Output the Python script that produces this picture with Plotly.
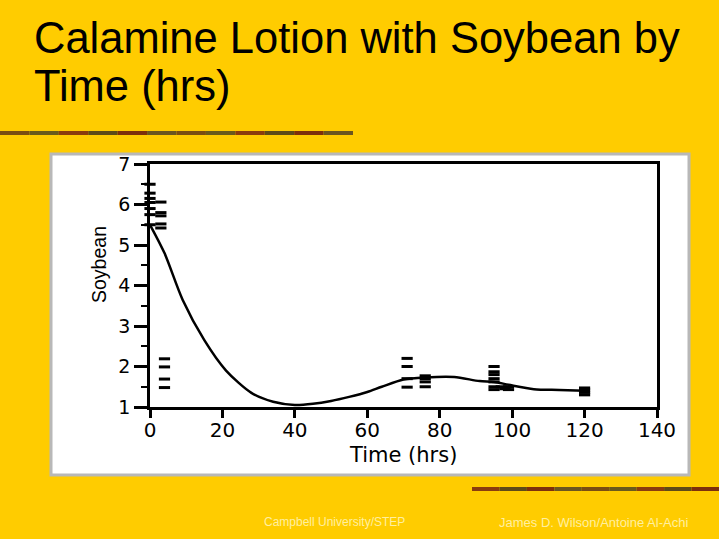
import plotly.graph_objects as go

# ---- data ----
pt_time = [0, 0, 0, 0, 0, 0, 0,
           3, 3, 3, 3, 3,
           4, 4, 4, 4,
           71, 71, 71, 71,
           76, 76, 76, 76,
           95, 95, 95, 95, 95, 95, 95,
           97, 98, 99, 99,
           120, 120, 120, 120]
pt_soy = [6.5, 6.28, 6.15, 6.05, 5.9, 5.75, 5.5,
          6.06, 5.8, 5.72, 5.52, 5.42,
          2.19, 1.99, 1.69, 1.48,
          2.2, 2.0, 1.7, 1.49,
          1.77, 1.7, 1.62, 1.5,
          2.0, 1.87, 1.8, 1.7, 1.62, 1.5, 1.43,
          1.5, 1.45, 1.5, 1.43,
          1.47, 1.42, 1.36, 1.3]

curve_time = [0, 4, 9, 15, 21, 28, 34, 40, 45, 50, 55, 60, 64, 70, 76, 84,
              91, 95, 99, 106, 113, 120]
curve_soy = [5.5, 4.8, 3.65, 2.65, 1.9, 1.35, 1.13, 1.05, 1.08, 1.15, 1.25,
             1.37, 1.5, 1.68, 1.73, 1.74, 1.64, 1.62, 1.55, 1.44, 1.42, 1.40]

x_ticks = [0, 20, 40, 60, 80, 100, 120, 140]
y_ticks = [1, 2, 3, 4, 5, 6, 7]

title_lines = ["Calamine Lotion with Soybean by", "Time (hrs)"]
x_title = "Time (hrs)"
y_title = "Soybean"
footer_left = "Campbell University/STEP"
footer_right = "James D. Wilson/Antoine Al-Achi"

# ---- layout geometry ----
W, H = 719, 539
L, R, T, B = 150, 657, 164, 407


def px(x):
    return (x - L) / (R - L)


def py(y):
    return (B - y) / (B - T)


fig = go.Figure()

fig.add_trace(go.Scatter(
    x=curve_time, y=curve_soy, mode="lines",
    line=dict(color="black", width=2.5, shape="spline", smoothing=0.8),
    hoverinfo="skip", showlegend=False, cliponaxis=False))

fig.add_trace(go.Scatter(
    x=pt_time, y=pt_soy, mode="markers",
    marker=dict(symbol="line-ew", size=8, color="black",
                line=dict(color="black", width=3)),
    showlegend=False, cliponaxis=False))

shapes = []
# white chart panel with grey border
shapes.append(dict(type="rect", xref="paper", yref="paper",
                   x0=px(51), x1=px(689), y0=py(475), y1=py(154),
                   fillcolor="white", line=dict(color="#b8b8b8", width=3),
                   layer="below"))
# decorative bars
bar_cols = ["#7a4d12", "#6a5a1c", "#8a3c0e", "#5e4a18", "#7d2f0c", "#6b5520"]
n = 12
for i in range(n):
    x0 = 0 + i * 353 / n
    shapes.append(dict(type="rect", xref="paper", yref="paper",
                       x0=px(x0), x1=px(x0 + 353 / n), y0=py(135), y1=py(131),
                       fillcolor=bar_cols[i % len(bar_cols)], line=dict(width=0),
                       layer="below"))
n2 = 9
for i in range(n2):
    x0 = 472 + i * 247 / n2
    shapes.append(dict(type="rect", xref="paper", yref="paper",
                       x0=px(x0), x1=px(x0 + 247 / n2), y0=py(491), y1=py(487),
                       fillcolor=bar_cols[(i + 2) % len(bar_cols)], line=dict(width=0),
                       layer="below"))

annotations = [
    dict(text=title_lines[0], x=px(32), y=py(38), xref="paper", yref="paper",
         xanchor="left", yanchor="middle", showarrow=False,
         font=dict(family="Liberation Sans, Arial", size=43.5, color="black")),
    dict(text=title_lines[1], x=px(32), y=py(86), xref="paper", yref="paper",
         xanchor="left", yanchor="middle", showarrow=False,
         font=dict(family="Liberation Sans, Arial", size=43.5, color="black")),
    dict(text=x_title, x=px(403), y=py(455), xref="paper", yref="paper",
         xanchor="center", yanchor="middle", showarrow=False,
         font=dict(family="DejaVu Sans", size=21, color="black")),
    dict(text=y_title, x=px(99), y=py(265), xref="paper", yref="paper",
         xanchor="center", yanchor="middle", showarrow=False, textangle=-90,
         font=dict(family="Liberation Sans, Arial", size=19.5, color="black")),
    dict(text=footer_left, x=px(262), y=py(522), xref="paper", yref="paper",
         xanchor="left", yanchor="middle", showarrow=False,
         font=dict(family="Liberation Sans, Arial", size=12, color="#FFEFA0")),
    dict(text=footer_right, x=px(497), y=py(522), xref="paper", yref="paper",
         xanchor="left", yanchor="middle", showarrow=False,
         font=dict(family="Liberation Sans, Arial", size=13, color="#FFEFA0")),
]

fig.update_layout(
    width=W, height=H,
    margin=dict(l=L, r=W - R, t=T, b=H - B, pad=0),
    paper_bgcolor="#FFCC00", plot_bgcolor="rgba(0,0,0,0)",
    shapes=shapes, annotations=annotations,
    xaxis=dict(range=[0, 140], tickvals=x_ticks, ticktext=[str(v) for v in x_ticks],
               showgrid=False, zeroline=False, showline=True, linecolor="black",
               linewidth=2.5, mirror=True, ticks="outside", ticklen=8, tickwidth=2.5,
               tickcolor="black", ticklabelstandoff=-5,
               tickfont=dict(family="DejaVu Sans", size=20, color="black")),
    yaxis=dict(range=[1, 7], tickvals=y_ticks, ticktext=[str(v) for v in y_ticks],
               showgrid=False, zeroline=False, showline=True, linecolor="black",
               linewidth=2.5, mirror=True, ticks="outside", ticklen=13, tickwidth=2.5,
               tickcolor="black",
               minor=dict(dtick=0.5, ticklen=6, tickwidth=2, tickcolor="black",
                          ticks="outside", showgrid=False),
               tickfont=dict(family="DejaVu Sans", size=19, color="black")),
)

fig.write_html("out.html",
               config={"displayModeBar": False},
               post_script="document.body.style.margin='0';"
                           "document.body.style.background='#FFCC00';")
